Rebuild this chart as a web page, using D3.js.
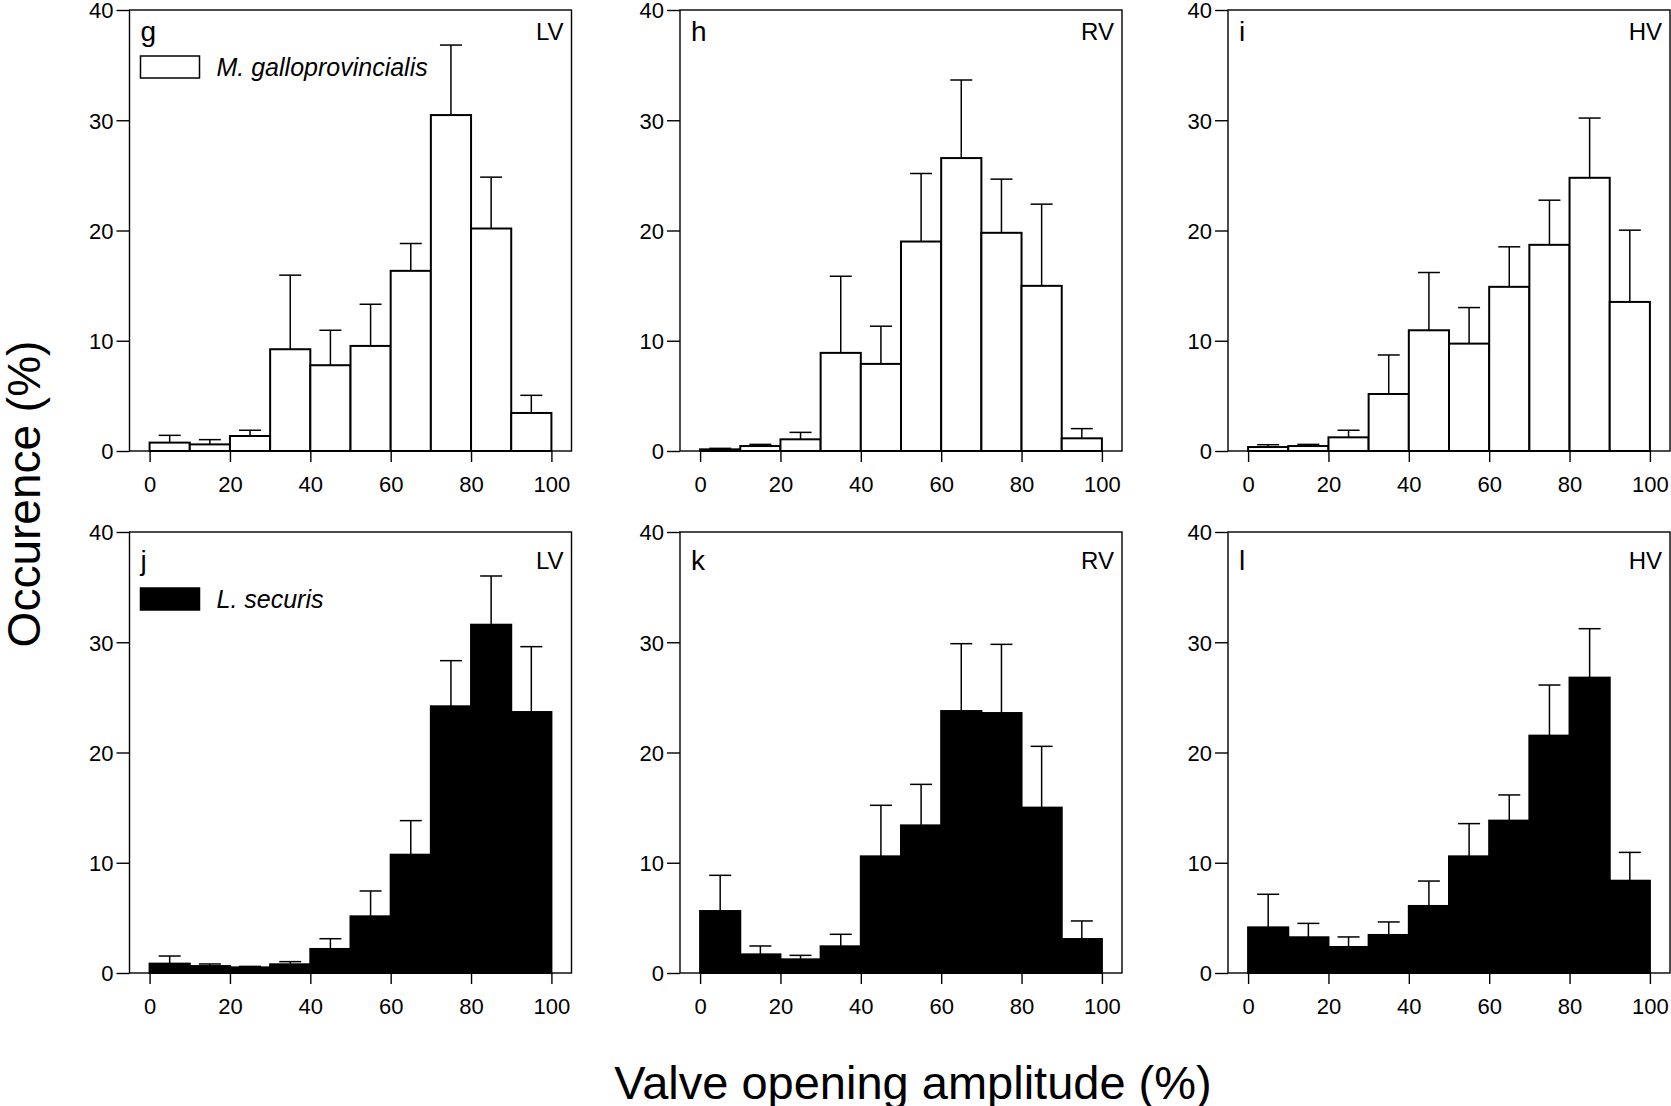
<!DOCTYPE html>
<html>
<head>
<meta charset="utf-8">
<script src="https://cdn.jsdelivr.net/npm/d3@7"></script>
<style>
  body { margin: 0; background: #fff; }
  svg { display: block; }
  text { font-family: "Liberation Sans", Arial, sans-serif; fill: #000; }
</style>
</head>
<body>
<svg width="1671" height="1106"></svg>
<script>
// bin starts (%), 10 wide
const bins = [0, 10, 20, 30, 40, 50, 60, 70, 80, 90];
const xTicks = [0, 20, 40, 60, 80, 100];
const yTicks = [0, 10, 20, 30, 40];
const valves = ["LV", "RV", "HV"];
const species = ["M. galloprovincialis", "L. securis"];

// M. galloprovincialis: mean and top of error bar
const gMean  = [0.76, 0.6, 1.36, 9.23, 7.78, 9.53, 16.34, 30.47, 20.18, 3.45];
const gUpper = [1.42, 1.03, 1.88, 15.95, 10.95, 13.31, 18.82, 36.82, 24.84, 5.05];
const hMean  = [0.15, 0.45, 1.06, 8.9, 7.9, 19.0, 26.57, 19.79, 14.98, 1.15];
const hUpper = [0.24, 0.6, 1.69, 15.85, 11.32, 25.17, 33.65, 24.66, 22.39, 2.03];
const iMean  = [0.36, 0.45, 1.24, 5.17, 10.95, 9.74, 14.89, 18.7, 24.78, 13.52];
const iUpper = [0.57, 0.6, 1.88, 8.71, 16.19, 13.01, 18.52, 22.75, 30.2, 20.03];

// L. securis
const jMean  = [0.85, 0.63, 0.51, 0.79, 2.18, 5.14, 10.73, 24.19, 31.59, 23.67];
const jUpper = [1.54, 0.82, 0.6, 1.03, 3.11, 7.44, 13.82, 28.33, 36.01, 29.6];
const kMean  = [5.62, 1.69, 1.24, 2.42, 10.58, 13.39, 23.76, 23.58, 15.0, 3.08];
const kUpper = [8.86, 2.45, 1.6, 3.51, 15.21, 17.11, 29.87, 29.81, 20.56, 4.72];
const lMean  = [4.14, 3.24, 2.36, 3.45, 6.08, 10.58, 13.82, 21.53, 26.79, 8.37];
const lUpper = [7.14, 4.5, 3.27, 4.63, 8.34, 13.55, 16.15, 26.12, 31.23, 10.94];

const panels = [
  { letter: "g", row: 0, col: 0, mean: gMean, upper: gUpper },
  { letter: "h", row: 0, col: 1, mean: hMean, upper: hUpper },
  { letter: "i", row: 0, col: 2, mean: iMean, upper: iUpper },
  { letter: "j", row: 1, col: 0, mean: jMean, upper: jUpper },
  { letter: "k", row: 1, col: 1, mean: kMean, upper: kUpper },
  { letter: "l", row: 1, col: 2, mean: lMean, upper: lUpper }
];

const svg = d3.select("svg");
const colLeft = [129.5, 680, 1228];
const rowTop = [10, 532];
const pw = 442, ph = 441;
// label offsets differ a bit between rows in the original
const rowLabelY = [30.5, 38];
const rowLegendY = [46, 56];

panels.forEach((p) => {
  let g = svg.append("g")
    .attr("transform", `translate(${colLeft[p.col]},${rowTop[p.row]})`);

  let x = d3.scaleLinear().domain([-5, 105]).range([0, pw]);
  let y = d3.scaleLinear().domain([0, 40]).range([ph, 0]);
  let filled = p.row === 1;

  // bars
  g.append("g")
    .selectAll("rect")
    .data(bins)
    .join("rect")
    .attr("x", (d) => x(d))
    .attr("width", (d) => x(d + 10) - x(d))
    .attr("y", (d, i) => y(p.mean[i]))
    .attr("height", (d, i) => y(0) - y(p.mean[i]))
    .style("fill", filled ? "#000" : "#fff")
    .style("stroke", "#000")
    .style("stroke-width", 2);

  // error bars
  let err = g.append("g").style("stroke", "#000").style("stroke-width", 1.5);
  err.selectAll(".stem")
    .data(bins)
    .join("line")
    .attr("x1", (d) => x(d + 5))
    .attr("x2", (d) => x(d + 5))
    .attr("y1", (d, i) => y(p.mean[i]))
    .attr("y2", (d, i) => y(p.upper[i]));
  err.selectAll(".cap")
    .data(bins)
    .join("line")
    .attr("x1", (d) => x(d + 5) - 11)
    .attr("x2", (d) => x(d + 5) + 11)
    .attr("y1", (d, i) => y(p.upper[i]))
    .attr("y2", (d, i) => y(p.upper[i]));

  // frame
  g.append("rect")
    .attr("width", pw)
    .attr("height", ph)
    .style("fill", "none")
    .style("stroke", "#000")
    .style("stroke-width", 1.4);

  let yAxis = g.append("g")
    .call(d3.axisLeft(y).tickValues(yTicks).tickSize(13).tickPadding(3));
  let xAxis = g.append("g")
    .attr("transform", `translate(0,${ph})`)
    .call(d3.axisBottom(x).tickValues(xTicks).tickSize(11).tickPadding(14));
  [xAxis, yAxis].forEach((a) => {
    a.select(".domain").remove();
    a.selectAll("line").style("stroke", "#000").style("stroke-width", 1.4);
    a.selectAll("text")
      .style("font-size", "22px")
      .style("font-family", "'Liberation Sans', Arial, sans-serif")
      .style("fill", "#000");
  });
  yAxis.selectAll("text").attr("dy", "0.36em");

  g.append("text")
    .attr("x", 11)
    .attr("y", rowLabelY[p.row])
    .style("font-size", "28px")
    .text(p.letter);

  g.append("text")
    .attr("x", pw - 8)
    .attr("y", rowLabelY[p.row] - 1)
    .attr("text-anchor", "end")
    .style("font-size", "24px")
    .text(valves[p.col]);

  if (p.col === 0) {
    let ly = rowLegendY[p.row];
    g.append("rect")
      .attr("x", 11)
      .attr("y", ly)
      .attr("width", 59)
      .attr("height", 22)
      .style("fill", filled ? "#000" : "#fff")
      .style("stroke", "#000")
      .style("stroke-width", 1.5);
    g.append("text")
      .attr("x", 87)
      .attr("y", ly + 20)
      .style("font-size", "25px")
      .style("font-style", "italic")
      .text(species[p.row]);
  }
});

svg.append("text")
  .attr("transform", "translate(40,494) rotate(-90)")
  .attr("text-anchor", "middle")
  .style("font-size", "46px")
  .text("Occurence (%)");

svg.append("text")
  .attr("x", 913)
  .attr("y", 1099)
  .attr("text-anchor", "middle")
  .style("font-size", "47px")
  .text("Valve opening amplitude (%)");
</script>
</body>
</html>
